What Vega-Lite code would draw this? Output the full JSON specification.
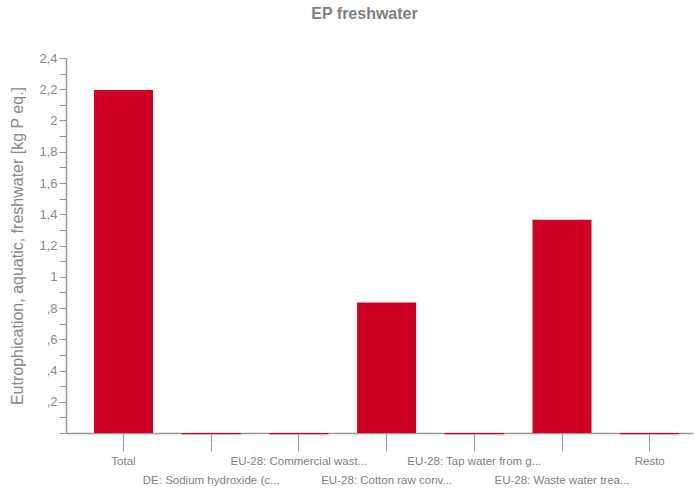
{
  "$schema": "https://vega.github.io/schema/vega-lite/v6.json",
  "autosize": "none",
  "width": 627,
  "height": 375,
  "padding": {"left": 66, "top": 58, "right": 1, "bottom": 62},
  "background": "white",
  "title": {
    "text": "EP freshwater",
    "font": "Liberation Sans",
    "fontSize": 16,
    "fontWeight": "bold",
    "color": "#808080",
    "anchor": "middle",
    "offset": 30,
    "dx": -15
  },
  "data": {
    "values": [
      {"process": "Total", "value": 2.195},
      {"process": "DE: Sodium hydroxide (c...", "value": -0.008},
      {"process": "EU-28: Commercial wast...", "value": -0.008},
      {"process": "EU-28: Cotton raw conv...", "value": 0.835},
      {"process": "EU-28: Tap water from g...", "value": -0.008},
      {"process": "EU-28: Waste water trea...", "value": 1.365},
      {"process": "Resto", "value": -0.008}
    ]
  },
  "mark": {"type": "bar", "color": "#CF0025"},
  "encoding": {
    "x": {
      "field": "process",
      "type": "nominal",
      "sort": null,
      "scale": {"paddingInner": 0.327, "paddingOuter": 0.238, "align": 0.67},
      "axis": {
        "title": null,
        "labelAngle": 0,
        "labelFont": "Liberation Sans",
        "labelFontSize": 11.5,
        "labelColor": "#808080",
        "labelLineHeight": 19,
        "labelBaseline": "top",
        "labelPadding": 4,
        "tickSize": 18,
        "tickColor": "#999999",
        "domainColor": "#999999",
        "domainWidth": 1.5,
        "labelExpr": "indexof(['DE: Sodium hydroxide (c...', 'EU-28: Cotton raw conv...', 'EU-28: Waste water trea...'], datum.value) >= 0 ? ['', datum.value] : datum.value"
      }
    },
    "y": {
      "field": "value",
      "type": "quantitative",
      "scale": {"domain": [0, 2.4], "nice": false, "zero": true},
      "axis": {
        "title": "Eutrophication, aquatic, freshwater [kg P eq.]",
        "titleFont": "Liberation Sans",
        "titleFontSize": 16,
        "titleFontWeight": "normal",
        "titleColor": "#888888",
        "titlePadding": 13,
        "grid": false,
        "values": [0, 0.1, 0.2, 0.3, 0.4, 0.5, 0.6, 0.7, 0.8, 0.9, 1, 1.1, 1.2, 1.3, 1.4, 1.5, 1.6, 1.7, 1.8, 1.9, 2, 2.1, 2.2, 2.3, 2.4],
        "labelExpr": "(datum.value == 0 || round(datum.value * 10) % 2 == 1) ? '' : (datum.value < 1 ? ',' + format(round(datum.value * 10), 'd') : replace(format(datum.value, '.1~f'), '.', ','))",
        "labelFont": "Liberation Sans",
        "labelFontSize": 13,
        "labelColor": "#888888",
        "labelPadding": 2,
        "tickSize": 7,
        "tickColor": "#999999",
        "domainColor": "#999999",
        "domainWidth": 1.5
      }
    }
  },
  "config": {"view": {"stroke": null}}
}
